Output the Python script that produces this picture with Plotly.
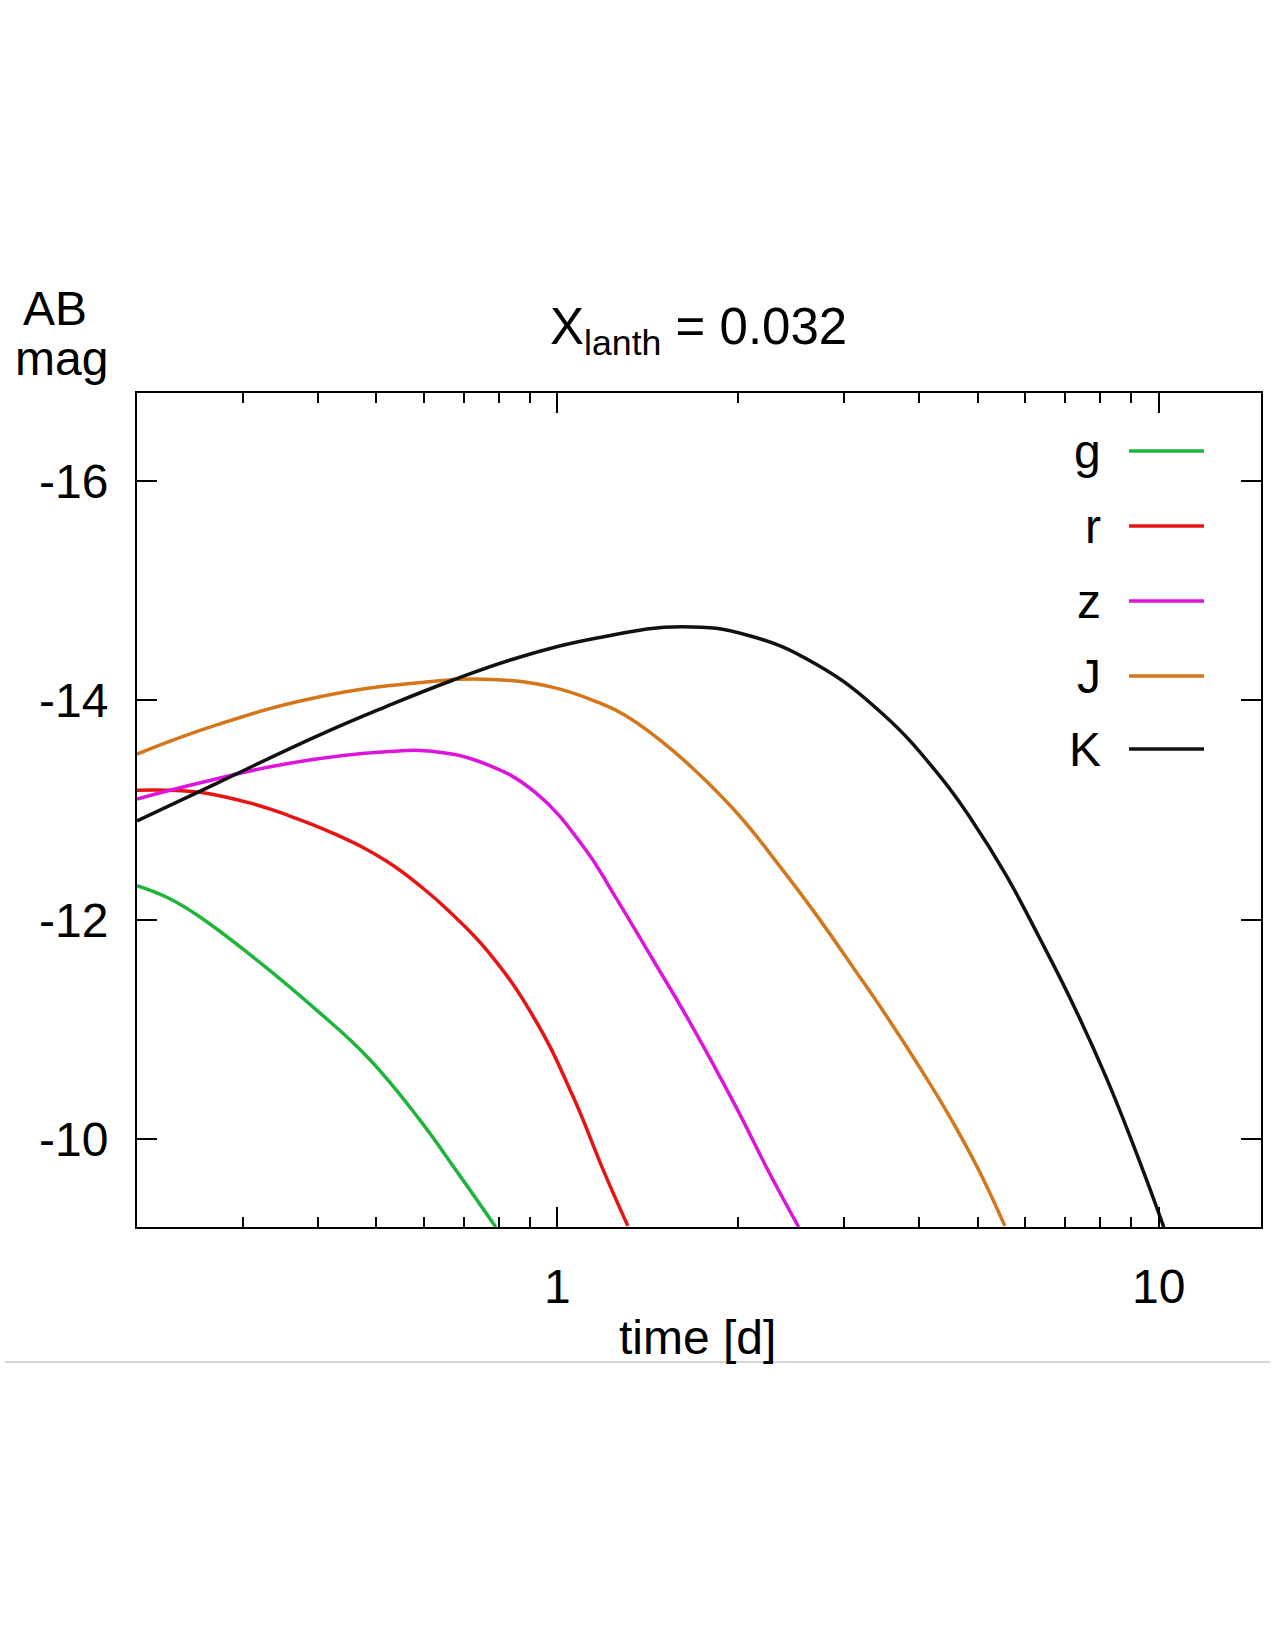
import math
import plotly.graph_objects as go

# ---- data ----
t_g = [0.2, 0.225, 0.2506, 0.312, 0.401, 0.485, 0.588, 0.682, 0.79]
m_g = [-12.31, -12.20, -12.05, -11.66, -11.16, -10.74, -10.19, -9.70, -9.20]

t_r = [0.2, 0.2255, 0.256, 0.31, 0.353, 0.427, 0.518, 0.6, 0.66, 0.767, 0.916, 1.06, 1.19, 1.31]
m_r = [-13.18, -13.18, -13.16, -13.06, -12.96, -12.78, -12.54, -12.28, -12.08, -11.71, -11.10, -10.40, -9.73, -9.21]

t_z = [0.2, 0.256, 0.353, 0.518, 0.627, 0.759, 0.919, 1.114, 1.236, 1.441, 1.68, 1.984, 2.254, 2.52]
m_z = [-13.10, -13.25, -13.42, -13.53, -13.53, -13.42, -13.16, -12.64, -12.25, -11.64, -11.02, -10.29, -9.69, -9.20]

t_J = [0.2, 0.273, 0.401, 0.588, 0.778, 0.98, 1.17, 1.3, 1.55, 1.954, 2.35, 2.7, 3.1, 3.5, 4.0, 4.5, 5.0, 5.55]
m_J = [-13.51, -13.78, -14.03, -14.16, -14.19, -14.12, -13.98, -13.86, -13.55, -13.02, -12.48, -12.04, -11.57, -11.15, -10.66, -10.20, -9.74, -9.21]

t_K = [0.2, 0.273, 0.401, 0.518, 0.668, 0.862, 1.17, 1.613, 2.08, 2.69, 3.47, 4.31, 4.90, 5.57, 6.33, 7.19, 8.17, 9.28, 10.2]
m_K = [-12.90, -13.25, -13.68, -13.94, -14.18, -14.39, -14.57, -14.67, -14.59, -14.33, -13.88, -13.32, -12.90, -12.41, -11.84, -11.24, -10.57, -9.81, -9.20]

band_names = ["g", "r", "z", "J", "K"]
band_colors = ["#1fb53a", "#e81414", "#dc14dc", "#d4761c", "#111111"]
band_t = [t_g, t_r, t_z, t_J, t_K]
band_m = [m_g, m_r, m_z, m_J, m_K]

x_major_vals = [1, 10]
x_major_text = ["1", "10"]
x_minor_vals = [0.3, 0.4, 0.5, 0.6, 0.7, 0.8, 0.9, 2, 3, 4, 5, 6, 7, 8, 9]
y_tick_vals = [-16, -14, -12, -10]
y_tick_text = ["-16", "-14", "-12", "-10"]

x_range = [0.2, 14.8]
y_range = [-9.2, -16.8]

# ---- figure ----
FONT = "Liberation Sans, Arial, Helvetica, sans-serif"
FS = 48
fig = go.Figure()
for name, col, t, m in zip(band_names, band_colors, band_t, band_m):
    fig.add_trace(go.Scatter(x=t, y=m, mode="lines", name=name, showlegend=False,
                             line=dict(color=col, width=3.5, shape="spline", smoothing=1.25)))

fig.update_layout(
    width=1275, height=1650,
    margin=dict(l=137, r=14, t=393, b=423),
    paper_bgcolor="white", plot_bgcolor="white",
    font=dict(family=FONT, size=FS, color="black"),
    showlegend=False,
)
fig.update_xaxes(
    type="log", range=[math.log10(x_range[0]), math.log10(x_range[1])],
    showgrid=False, zeroline=False,
    showline=True, linecolor="black", linewidth=2, mirror="allticks",
    ticks="inside", ticklen=20, tickwidth=1.5, tickcolor="black",
    tickmode="array", tickvals=x_major_vals, ticktext=x_major_text,
    tickfont=dict(family=FONT, size=FS, color="black"),
    ticklabelstandoff=16,
    minor=dict(tickmode="array", tickvals=x_minor_vals, ticks="inside", ticklen=10,
               tickwidth=1.5, tickcolor="black", showgrid=False),
)
fig.update_yaxes(
    range=y_range, showgrid=False, zeroline=False,
    showline=True, linecolor="black", linewidth=2, mirror="allticks",
    ticks="inside", ticklen=20, tickwidth=1.5, tickcolor="black",
    tickmode="array", tickvals=y_tick_vals, ticktext=y_tick_text,
    tickfont=dict(family=FONT, size=FS, color="black"),
    ticklabelstandoff=17,
)

# axis texts
fig.add_annotation(text="time [d]", xref="paper", yref="paper", x=(697 - 137) / 1124, y=(1227 - 1337) / 834,
                   showarrow=False, xanchor="center", yanchor="middle",
                   font=dict(family=FONT, size=FS, color="black"))
fig.add_annotation(text="AB", xref="paper", yref="paper", x=(55 - 137) / 1124, y=(1227 - 308) / 834,
                   showarrow=False, xanchor="center", yanchor="middle",
                   font=dict(family=FONT, size=FS, color="black"))
fig.add_annotation(text="mag", xref="paper", yref="paper", x=(61 - 137) / 1124, y=(1227 - 358) / 834,
                   showarrow=False, xanchor="center", yanchor="middle",
                   font=dict(family=FONT, size=FS, color="black"))
fig.add_annotation(text="X<sub>lanth</sub> = 0.032", xref="paper", yref="paper",
                   x=(698 - 137) / 1124, y=(1227 - 330) / 834,
                   showarrow=False, xanchor="center", yanchor="middle",
                   font=dict(family=FONT, size=51, color="black"))

# key (gnuplot style: label then line sample)
key_y_px = [451, 526, 601, 676, 749]
for name, col, ypx in zip(band_names, band_colors, key_y_px):
    yp = (1227 - ypx) / 834
    fig.add_annotation(text=name, xref="paper", yref="paper", x=(1103 - 137) / 1124, y=yp,
                       showarrow=False, xanchor="right", yanchor="middle",
                       font=dict(family=FONT, size=FS, color="black"))
    fig.add_shape(type="line", xref="paper", yref="paper",
                  x0=(1129 - 137) / 1124, x1=(1204 - 137) / 1124, y0=yp, y1=yp,
                  line=dict(color=col, width=3.5))

# page separator line
fig.add_shape(type="line", xref="paper", yref="paper",
              x0=(5 - 137) / 1124, x1=(1270 - 137) / 1124,
              y0=(1227 - 1362) / 834, y1=(1227 - 1362) / 834,
              line=dict(color="#c8c8c8", width=1.5))

fig.write_html("out.html")
